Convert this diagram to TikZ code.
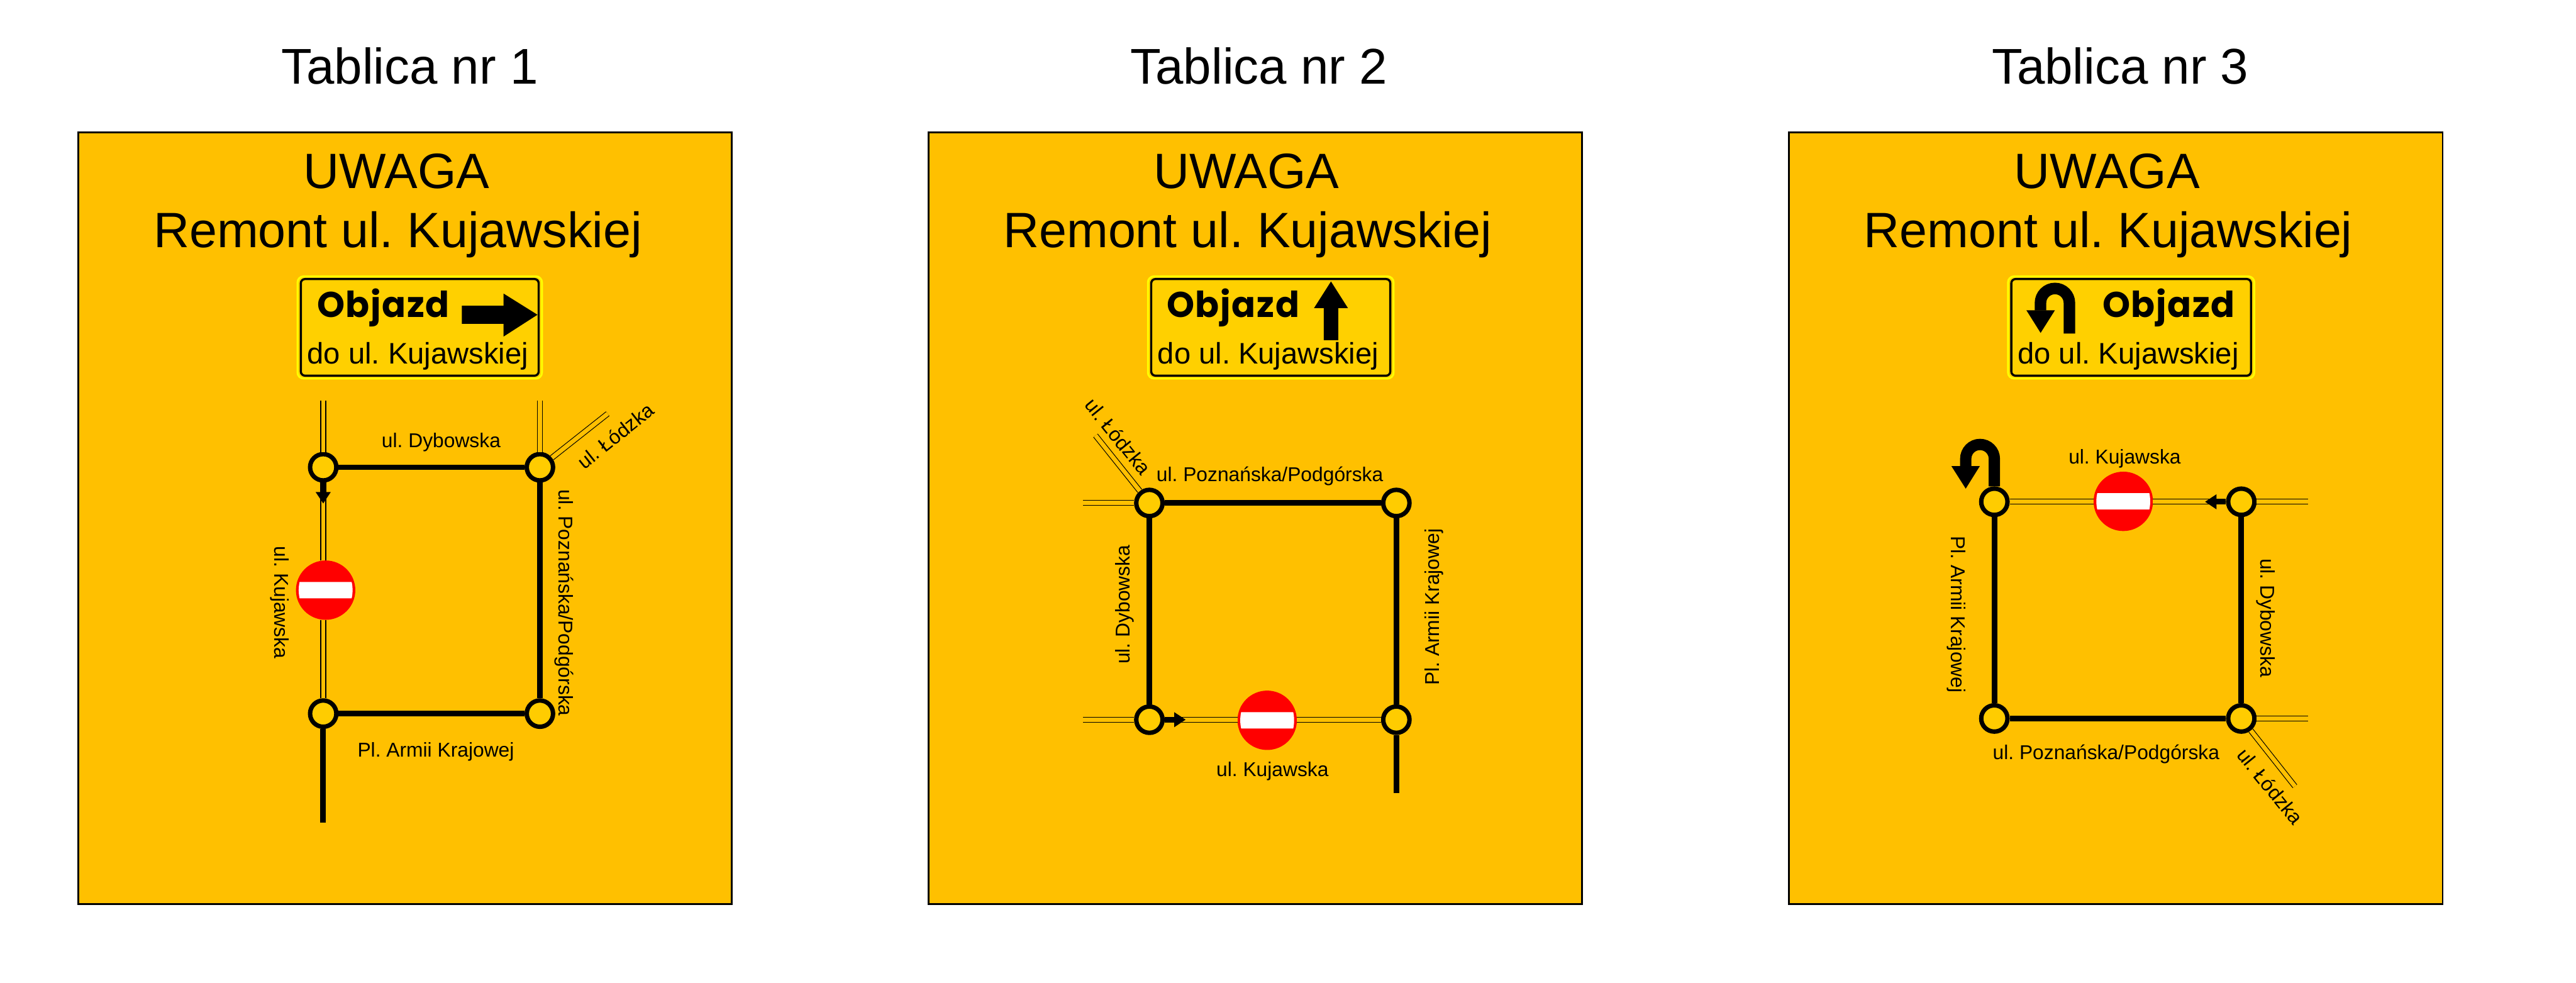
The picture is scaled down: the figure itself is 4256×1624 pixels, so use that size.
\documentclass[tikz,border=0pt]{standalone}
\usepackage{fontspec}
\usepackage{graphicx}
\setmainfont{Liberation Sans}
\newfontfamily\objf{Poppins}[LetterSpace=3]
\usetikzlibrary{arrows.meta}
\definecolor{amber}{HTML}{FFC000}
\definecolor{signfill}{HTML}{FFD000}
\definecolor{junctionfill}{HTML}{FFCC00}
\definecolor{signedge}{HTML}{FFFF00}
\frenchspacing
\tikzset{
 boardbox/.style={draw=black,line width=0.03cm,fill=amber,anchor=north west,inner sep=0pt,outer sep=0pt,minimum width=10.79cm,minimum height=12.74cm},
 titletext/.style={font=\fontsize{23.6pt}{28pt}\selectfont,anchor=base west,inner sep=0pt},
 bigtext/.style={font=\fontsize{23.33pt}{28pt}\selectfont,anchor=base west,inner sep=0pt},
 signtext/.style={font=\fontsize{13.94pt}{16pt}\selectfont,anchor=base west,inner sep=0pt},
 objtext/.style={anchor=base west,inner sep=0pt},
 lab/.style={font=\fontsize{9.39pt}{11pt}\selectfont,anchor=base west,inner sep=0pt},
 labend/.style={lab,anchor=base east},
 labmid/.style={font=\fontsize{9.39pt}{11pt}\selectfont,anchor=center,inner sep=0pt},
 road/.style={draw=black,line width=0.012cm,double=amber,double distance=0.071cm},
 route/.style={draw=black,line width=0.093cm},
 turnarrow/.style={route,-{Triangle[length=0.19cm,width=0.235cm]}},
 junction/.style={circle,draw=black,line width=0.073cm,fill=junctionfill,minimum size=0.434cm,inner sep=0pt},
 noentrydisc/.style={circle,fill=red,minimum size=0.98cm,inner sep=0pt,outer sep=0pt},
 glyph/.style={fill=black,draw=none}
}
\newcommand{\noentrysign}[3]{%
  \node[noentrydisc] (#1) at (#2,#3) {};
  \begin{scope}[shift={(#2,#3)}]
    \fill[white] (-43,-13.5) -- (43,-13.5) .. controls (45,-5) and (45,5) .. (43,13.5) -- (-43,13.5) .. controls (-45,5) and (-45,-5) .. (-43,-13.5) -- cycle;
  \end{scope}}
\newcommand{\signbox}[2]{%
  \draw[signedge,line width=0.03cm,fill=signfill,rounded corners=0.1cm] (#1+1.5,456.5) rectangle (#2-1.5,625.5);
  \draw[black,line width=0.035cm,rounded corners=0.07cm] (#1+7,461) rectangle (#2-7,620.7);}
\newcommand{\objazd}[3]{\node[objtext] (#1) at (#2,#3) {\resizebox*{2.19cm}{0.63cm}{\objf\bfseries Objazd}};}
\begin{document}
\begin{tikzpicture}[x=0.01cm,y=-0.01cm]
\useasboundingbox (0,0) rectangle (4256,1624);

% titles
\node[titletext] (t1) at (464,138.3) {Tablica nr 1};
\node[titletext] (t2) at (1867,138.3) {Tablica nr 2};
\node[titletext] (t3) at (3290,138.3) {Tablica nr 3};

% boards
\node[boardbox] (b1) at (129.5,219) {};
\node[boardbox] (b2) at (1534.5,219) {};
\node[boardbox] (b3) at (2956,219) {};

\node[bigtext] (u1) at (501,311) {UWAGA};
\node[bigtext] (r1) at (253,409.3) {Remont ul. Kujawskiej};
\node[bigtext] (u2) at (1905,311) {UWAGA};
\node[bigtext] (r2) at (1657,409.3) {Remont ul. Kujawskiej};
\node[bigtext] (u3) at (3327,311) {UWAGA};
\node[bigtext] (r3) at (3079,409.3) {Remont ul. Kujawskiej};

% sign 1
\signbox{490}{897}
\objazd{o1}{523}{524}
\node[signtext] (d1) at (507,601) {do ul. Kujawskiej};
\fill[glyph] (763,505) -- (832,505) -- (832,485) -- (888,520) -- (832,556) -- (832,535) -- (763,535) -- cycle;

% sign 2
\signbox{1895}{2304}
\objazd{o2}{1927}{524}
\node[signtext] (d2) at (1912,601) {do ul. Kujawskiej};
\fill[glyph] (2199,465) -- (2227,509) -- (2211,509) -- (2211,562) -- (2187,562) -- (2187,509) -- (2171,509) -- cycle;

% sign 3
\signbox{3316}{3726}
\objazd{o3}{3473}{524}
\node[signtext] (d3) at (3333,601) {do ul. Kujawskiej};
\draw[black,line width=0.19cm] (3419,551) -- (3419,500.5) .. controls (3419,487.3) and (3408.3,476.6) .. (3395.1,476.6) .. controls (3381.9,476.6) and (3371.2,487.3) .. (3371.2,500.5) -- (3371.2,513);
\fill[glyph] (3348,512.7) -- (3395,512.7) -- (3371.4,550) -- cycle;

% ---- map 1
\node[junction] (a1) at (534,772) {};
\node[junction] (a2) at (892,772) {};
\node[junction] (a3) at (534,1179) {};
\node[junction] (a4) at (892,1179) {};
\noentrysign{an}{538}{975}
\coordinate (at1) at (534,662);
\coordinate (at2) at (892,662);
\coordinate (al) at (1004,683.5);
\coordinate (ae) at (534,1359);
\coordinate (aa) at (534,832);
\draw[road] (a1) -- (at1);
\draw[road] (a2) -- (at2);
\draw[road] (a2) -- (al);
\draw[road] (a1) -- (a1 |- an.north);
\draw[road] (a3) -- (a3 |- an.south);
\draw[route] (a1) -- (a2);
\draw[route] (a2) -- (a4);
\draw[route] (a3) -- (a4);
\draw[route] (a3) -- (ae);
\draw[turnarrow] (a1) -- (aa);
\node[lab] (al1) at (630,739) {ul. Dybowska};
\node[lab,rotate=-90] (al2) at (923,808) {ul. Poznańska/Podgórska};
\node[labmid,rotate=38.5] (al3) at (1017,720) {ul. Łódzka};
\node[lab,rotate=-90] (al4) at (453.5,902) {ul. Kujawska};
\node[lab] (al5) at (590,1250) {Pl. Armii Krajowej};

% ---- map 2
\node[junction] (c1) at (1899,831) {};
\node[junction] (c2) at (2307,831) {};
\node[junction] (c3) at (1899,1189) {};
\node[junction] (c4) at (2307,1189) {};
\noentrysign{cn}{2093.6}{1190}
\coordinate (cw1) at (1789,831);
\coordinate (cw2) at (1789,1189);
\coordinate (cl) at (1810,719.5);
\coordinate (ce) at (2307,1310);
\coordinate (ca) at (1959,1189);
\draw[road] (c1) -- (cw1);
\draw[road] (c1) -- (cl);
\draw[road] (c3) -- (cw2);
\draw[road] (c3) -- (c3 -| cn.west);
\draw[road] (c4) -- (c4 -| cn.east);
\draw[route] (c1) -- (c2);
\draw[route] (c1) -- (c3);
\draw[route] (c2) -- (c4);
\draw[route] (c4) -- (ce);
\draw[turnarrow] (c3) -- (ca);
\node[lab] (cl1) at (1910,795) {ul. Poznańska/Podgórska};
\node[labmid,rotate=-51] (cl2) at (1847,721) {ul. Łódzka};
\node[labend,rotate=90] (cl3) at (1867,900) {ul. Dybowska};
\node[lab,rotate=90] (cl4) at (2377.7,1133) {Pl. Armii Krajowej};
\node[lab] (cl5) at (2009,1283) {ul. Kujawska};

% ---- map 3
\node[junction] (e1) at (3295,829) {};
\node[junction] (e2) at (3703,829) {};
\node[junction] (e3) at (3295,1187) {};
\node[junction] (e4) at (3703,1187) {};
\noentrysign{en}{3508}{828.3}
\coordinate (ee1) at (3813,829);
\coordinate (ee2) at (3813,1187);
\coordinate (el) at (3791.5,1299);
\coordinate (ea) at (3643,829);
\draw[road] (e1) -- (e1 -| en.west);
\draw[road] (e2) -- (e2 -| en.east);
\draw[road] (e2) -- (ee1);
\draw[road] (e4) -- (ee2);
\draw[road] (e4) -- (el);
\draw[route] (e1) -- (e3);
\draw[route] (e2) -- (e4);
\draw[route] (e3) -- (e4);
\draw[turnarrow] (e2) -- (ea);
\draw[black,line width=0.186cm] (e1.north) -- (3295,758) .. controls (3295,744.9) and (3284.4,734.3) .. (3271.3,734.3) .. controls (3258.2,734.3) and (3247.7,744.9) .. (3247.7,758) -- (3247.7,771);
\fill[glyph] (3224,770) -- (3271,770) -- (3247.7,807.3) -- cycle;
\node[lab] (el1) at (3417,766.7) {ul. Kujawska};
\node[lab,rotate=-90] (el2) at (3224,885) {Pl. Armii Krajowej};
\node[lab,rotate=-90] (el3) at (3735,922) {ul. Dybowska};
\node[lab] (el4) at (3291.7,1254.7) {ul. Poznańska/Podgórska};
\node[labmid,rotate=-51] (el5) at (3750.7,1299) {ul. Łódzka};
\end{tikzpicture}
\end{document}
